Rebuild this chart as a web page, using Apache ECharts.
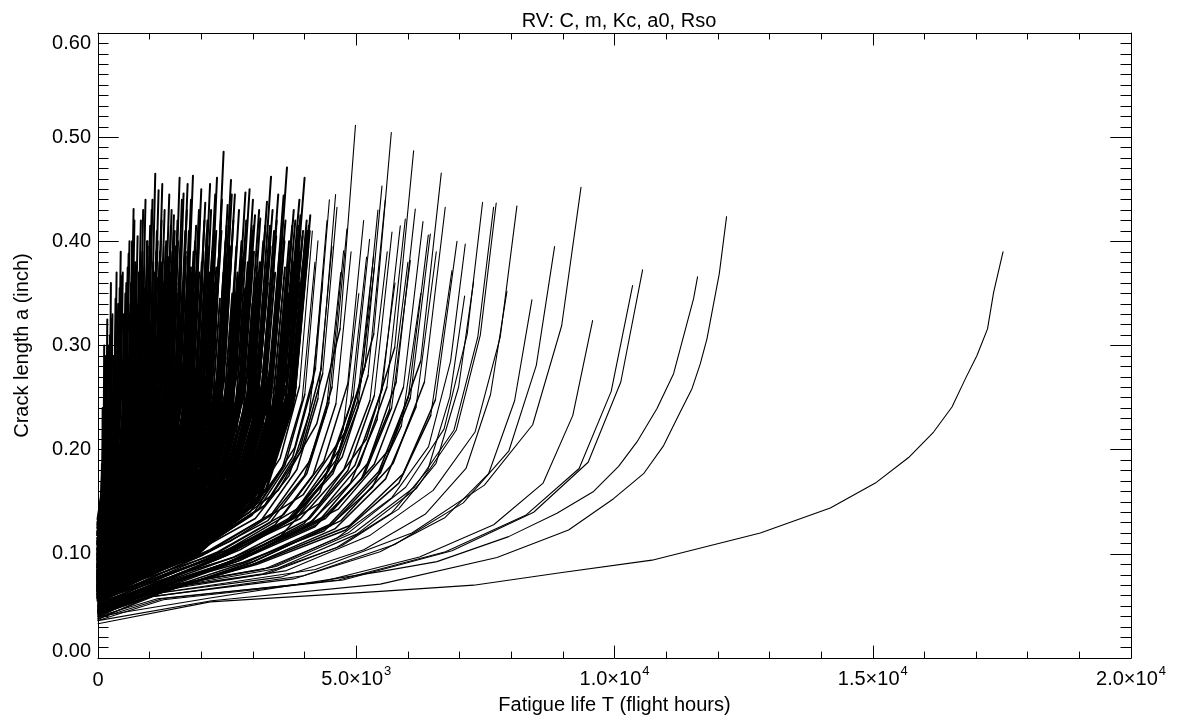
<!DOCTYPE html>
<html>
<head>
<meta charset="utf-8">
<script src="https://cdn.jsdelivr.net/npm/echarts@6/dist/echarts.min.js"></script>
<style>
html,body{margin:0;padding:0;background:#fff;}
#chart{width:1187px;height:720px;}
</style>
</head>
<body>
<div id="chart"></div>
<script>
// Each curve: flat list [T0,a0, T1,a1, ...]  (T in flight hours, a in inch)
const titleText = 'RV: C, m, Kc, a0, Rso';
const xAxisTitle = 'Fatigue life T (flight hours)';
const yAxisTitle = 'Crack length a (inch)';
const xTickMantissa = ['0', '5.0', '1.0', '1.5', '2.0'];
const xTickExp = ['', '3', '4', '4', '4'];
const yTickLabels = ['0.00', '0.10', '0.20', '0.30', '0.40', '0.50', '0.60'];

const bandA = [
[0,.128,60,.153,96,.184,112,.227,120,.30],
[0,.134,90,.162,144,.196,167,.244,180,.325],
[0,.118,115,.146,184,.180,214,.228,230,.31],
[0,.122,136,.150,217,.184,252,.232,271,.326],
[0,.112,150,.137,240,.168,279,.211,300,.29],
[0,.126,170,.157,272,.194,316,.247,340,.345],
[0,.105,190,.133,304,.167,353,.215,380,.31],
[0,.118,210,.152,336,.192,391,.250,420,.355],
[0,.115,233,.151,372,.196,432,.258,465,.367],
[0,.108,250,.139,400,.176,465,.229,500,.33],
[0,.121,265,.152,424,.189,493,.242,530,.35],
[0,.099,280,.130,448,.167,521,.220,560,.32],
[0,.11,297,.149,474,.197,551,.264,593,.388],
[0,.112,75,.134,120,.162,140,.200,150,.27],
[0,.13,125,.161,200,.198,233,.251,250,.36],
[0,.098,160,.123,256,.154,298,.197,320,.28],
[0,.127,220,.163,352,.208,409,.270,440,.39],
[0,.124,305,.163,488,.211,567,.278,610,.40],
[0,.12,45,.137,72,.157,84,.186,90,.24],
[0,.133,180,.167,288,.207,335,.265,360,.37],
[0,.125,100,.150,160,.181,186,.224,200,.30],
[0,.11,140,.141,224,.178,260,.231,280,.33],
[0,.103,205,.134,328,.171,381,.224,410,.32],
[0,.125,240,.159,384,.199,446,.257,480,.37],
[0,.115,275,.149,440,.189,512,.247,550,.36],
[0,.105,315,.139,504,.179,586,.237,630,.34],
[0,.128,195,.159,312,.196,363,.249,390,.34],
[0,.095,260,.126,416,.163,484,.216,520,.31],
[0,.13,70,.152,112,.180,130,.218,140,.29],
[0,.128,288,.162,460,.202,535,.260,575,.375]
];

const bandB = [
[0,.105,320,.141,512,.186,595,.248,640,.36],
[0,.112,345,.157,551,.211,641,.288,689,.431],
[0,.095,360,.134,576,.182,670,.249,720,.38],
[0,.118,384,.157,614,.205,713,.272,767,.405],
[0,.088,400,.124,640,.169,744,.231,800,.35],
[0,.122,415,.164,664,.215,772,.287,830,.42],
[0,.101,430,.140,688,.188,800,.255,860,.39],
[0,.093,445,.132,712,.180,828,.247,890,.37],
[0,.114,460,.159,736,.213,856,.290,920,.44],
[0,.085,475,.130,760,.184,884,.261,950,.40],
[0,.109,490,.145,784,.190,911,.252,980,.36],
[0,.097,505,.142,808,.196,939,.273,1010,.415],
[0,.119,520,.161,832,.212,967,.284,1040,.43],
[0,.082,535,.124,856,.175,995,.247,1070,.38],
[0,.104,555,.154,887,.216,1031,.302,1109,.465],
[0,.091,570,.136,912,.190,1060,.267,1140,.41],
[0,.113,587,.161,938,.218,1091,.300,1173,.449],
[0,.079,600,.121,960,.172,1116,.244,1200,.39],
[0,.099,615,.144,984,.198,1144,.275,1230,.42],
[0,.087,630,.126,1008,.174,1172,.241,1260,.36],
[0,.116,645,.161,1032,.215,1200,.292,1290,.43],
[0,.094,660,.136,1056,.187,1228,.259,1320,.40],
[0,.083,675,.125,1080,.176,1256,.248,1350,.375],
[0,.107,690,.155,1104,.212,1283,.294,1380,.445],
[0,.09,705,.135,1128,.189,1311,.266,1410,.415],
[0,.076,720,.115,1152,.163,1339,.230,1440,.35],
[0,.101,735,.146,1176,.200,1367,.277,1470,.425],
[0,.086,750,.128,1200,.179,1395,.251,1500,.395],
[0,.125,330,.164,528,.212,614,.279,660,.40],
[0,.078,373,.114,596,.159,693,.221,745,.33],
[0,.11,438,.155,700,.209,814,.286,875,.43],
[0,.12,483,.159,772,.207,897,.274,965,.395],
[0,.088,528,.138,844,.200,981,.286,1055,.44],
[0,.121,578,.160,924,.208,1074,.275,1155,.40],
[0,.105,623,.155,996,.217,1158,.303,1245,.455],
[0,.112,668,.151,1068,.199,1242,.266,1335,.385],
[0,.08,713,.130,1140,.192,1325,.278,1425,.43],
[0,.115,743,.157,1188,.208,1381,.280,1485,.41],
[0,.102,353,.147,564,.201,656,.278,705,.42],
[0,.096,563,.130,900,.170,1046,.228,1125,.345],
[0,.115,325,.146,520,.183,605,.236,650,.34],
[0,.088,350,.122,560,.162,651,.220,700,.32],
[0,.109,370,.145,592,.190,688,.252,740,.37],
[0,.097,390,.131,624,.171,725,.229,780,.335],
[0,.113,410,.149,656,.194,763,.256,820,.38],
[0,.08,425,.111,680,.148,791,.201,850,.31],
[0,.104,453,.140,724,.185,842,.247,905,.355],
[0,.09,468,.124,748,.164,870,.222,935,.33],
[0,.118,498,.154,796,.199,925,.261,995,.385],
[0,.075,513,.109,820,.149,953,.207,1025,.32],
[0,.1,530,.139,848,.187,986,.254,1060,.37],
[0,.087,545,.123,872,.168,1014,.230,1090,.34],
[0,.111,565,.150,904,.198,1051,.265,1130,.39],
[0,.078,583,.112,932,.152,1083,.210,1165,.31],
[0,.095,605,.131,968,.176,1125,.238,1210,.365],
[0,.106,620,.145,992,.193,1153,.260,1240,.38],
[0,.082,638,.116,1020,.156,1186,.214,1275,.33],
[0,.1,655,.142,1048,.193,1218,.265,1310,.395],
[0,.091,673,.127,1076,.172,1251,.234,1345,.35],
[0,.077,688,.119,1100,.170,1279,.242,1375,.385],
[0,.103,700,.139,1120,.184,1302,.246,1400,.36],
[0,.084,728,.123,1164,.171,1353,.238,1455,.37],
[0,.096,745,.135,1192,.183,1386,.250,1490,.38],
[0,.1,340,.136,544,.181,632,.243,680,.36],
[0,.12,435,.154,696,.194,809,.252,870,.36],
[0,.098,480,.140,768,.191,893,.263,960,.40],
[0,.12,550,.156,880,.201,1023,.263,1100,.37],
[0,.089,595,.131,952,.182,1107,.254,1190,.38],
[0,.098,643,.132,1028,.172,1195,.230,1285,.34],
[0,.111,720,.150,1152,.198,1339,.265,1440,.39]
];

const bandC = [
[0,.095,770,.140,1232,.194,1432,.271,1540,.42],
[0,.083,790,.136,1264,.201,1469,.292,1580,.461],
[0,.104,805,.146,1288,.197,1497,.269,1610,.40],
[0,.078,829,.128,1326,.190,1541,.276,1657,.446],
[0,.092,845,.131,1352,.179,1572,.246,1690,.38],
[0,.11,860,.155,1376,.209,1600,.286,1720,.43],
[0,.071,880,.119,1408,.176,1637,.258,1760,.41],
[0,.088,900,.138,1440,.200,1674,.286,1800,.44],
[0,.099,920,.149,1471,.211,1710,.297,1839,.463],
[0,.067,935,.109,1496,.160,1739,.232,1870,.37],
[0,.084,950,.132,1520,.189,1767,.271,1900,.415],
[0,.103,970,.145,1552,.196,1804,.268,1940,.395],
[0,.076,985,.124,1576,.181,1832,.263,1970,.425],
[0,.09,1000,.140,1600,.202,1860,.288,2000,.45],
[0,.069,1020,.114,1632,.168,1897,.245,2040,.39],
[0,.081,1039,.131,1662,.193,1932,.279,2077,.437],
[0,.097,1055,.142,1688,.196,1962,.273,2110,.41],
[0,.064,1075,.106,1720,.157,2000,.229,2150,.36],
[0,.086,1095,.134,1752,.191,2037,.273,2190,.43],
[0,.074,1115,.119,1784,.173,2074,.250,2230,.40],
[0,.093,1135,.143,1816,.205,2111,.291,2270,.445],
[0,.072,1152,.125,1843,.190,2143,.281,2304,.461],
[0,.081,1170,.123,1872,.174,2176,.246,2340,.385],
[0,.066,1190,.116,1904,.178,2213,.264,2380,.42],
[0,.078,1216,.134,1946,.202,2262,.298,2432,.486],
[0,.088,1235,.133,1976,.187,2297,.264,2470,.40],
[0,.07,1255,.120,2008,.182,2334,.268,2510,.435],
[0,.062,1273,.104,2036,.155,2367,.227,2545,.37],
[0,.083,1288,.136,2060,.201,2395,.292,2575,.459],
[0,.072,760,.111,1216,.159,1414,.226,1520,.36],
[0,.087,813,.137,1300,.199,1511,.285,1625,.44],
[0,.097,868,.147,1388,.209,1614,.295,1735,.455],
[0,.078,925,.123,1480,.177,1721,.254,1850,.39],
[0,.094,978,.142,1564,.199,1818,.281,1955,.43],
[0,.1,1030,.145,1648,.199,1916,.276,2060,.42],
[0,.077,1085,.130,1736,.195,2018,.286,2170,.455],
[0,.085,1145,.130,1832,.184,2130,.261,2290,.41],
[0,.091,1200,.139,1920,.196,2232,.278,2400,.44],
[0,.076,1245,.124,1992,.181,2316,.263,2490,.415],
[0,.068,1295,.121,2072,.186,2409,.277,2590,.445],
[0,.105,890,.144,1424,.192,1655,.259,1780,.375],
[0,.098,1105,.140,1768,.191,2055,.263,2210,.39],
[0,.1,765,.136,1224,.181,1423,.243,1530,.35],
[0,.079,785,.115,1256,.160,1460,.222,1570,.33],
[0,.089,800,.128,1280,.176,1488,.243,1600,.37],
[0,.106,820,.142,1312,.187,1525,.249,1640,.36],
[0,.07,835,.109,1336,.157,1553,.224,1670,.34],
[0,.096,850,.138,1360,.189,1581,.261,1700,.39],
[0,.083,873,.119,1396,.164,1623,.226,1745,.35],
[0,.092,888,.126,1420,.166,1651,.224,1775,.335],
[0,.074,908,.116,1452,.167,1688,.239,1815,.37],
[0,.101,930,.140,1488,.188,1730,.255,1860,.38],
[0,.087,945,.121,1512,.161,1758,.219,1890,.32],
[0,.066,963,.105,1540,.153,1790,.220,1925,.35],
[0,.085,980,.124,1568,.172,1823,.239,1960,.37],
[0,.095,1010,.131,1616,.176,1879,.238,2020,.36],
[0,.078,1025,.114,1640,.159,1907,.221,2050,.34],
[0,.068,1045,.113,1672,.167,1944,.244,2090,.38],
[0,.088,1065,.130,1704,.181,1981,.253,2130,.395],
[0,.102,1080,.138,1728,.183,2009,.245,2160,.37],
[0,.073,1100,.109,1760,.154,2046,.216,2200,.33],
[0,.084,1125,.123,1800,.171,2093,.238,2250,.36],
[0,.061,1140,.100,1824,.148,2120,.215,2280,.35],
[0,.09,1160,.129,1856,.177,2158,.244,2320,.375],
[0,.077,1180,.122,1888,.176,2195,.253,2360,.39],
[0,.069,1205,.108,1928,.156,2241,.223,2410,.34],
[0,.082,1225,.121,1960,.169,2279,.236,2450,.37],
[0,.095,1240,.134,1984,.182,2306,.249,2480,.385],
[0,.065,1265,.107,2024,.158,2353,.230,2530,.36],
[0,.079,1280,.124,2048,.178,2381,.255,2560,.395],
[0,.091,775,.133,1240,.184,1442,.256,1550,.40],
[0,.1,845,.145,1352,.199,1572,.276,1690,.41],
[0,.08,940,.125,1504,.179,1748,.256,1880,.40],
[0,.071,1005,.105,1608,.145,1869,.203,2010,.31],
[0,.079,1060,.127,1696,.184,1972,.266,2120,.42],
[0,.1,1195,.145,1912,.199,2223,.276,2390,.41],
[0,.087,1260,.129,2016,.180,2344,.252,2520,.38],
[0,.074,1300,.113,2080,.161,2418,.228,2600,.35]
];

const bandD = [
[0,.08,1310,.128,2096,.185,2437,.267,2620,.42],
[0,.064,1340,.112,2144,.169,2492,.251,2680,.395],
[0,.074,1365,.124,2184,.186,2539,.272,2730,.43],
[0,.087,1395,.132,2232,.186,2595,.263,2790,.40],
[0,.07,1428,.123,2284,.188,2655,.279,2855,.447],
[0,.061,1450,.106,2320,.160,2697,.237,2900,.38],
[0,.078,1468,.131,2348,.196,2730,.287,2935,.45],
[0,.067,1495,.115,2392,.172,2781,.254,2990,.41],
[0,.083,1520,.131,2432,.188,2827,.270,3040,.425],
[0,.058,1545,.103,2472,.157,2874,.234,3090,.37],
[0,.072,1571,.120,2514,.177,2922,.259,3142,.422],
[0,.064,1600,.112,2560,.169,2976,.251,3200,.40],
[0,.076,1636,.126,2618,.188,3043,.274,3272,.438],
[0,.059,1655,.104,2648,.158,3078,.235,3310,.385],
[0,.069,1675,.125,2680,.193,3116,.289,3350,.462],
[0,.081,1705,.126,2728,.180,3171,.257,3410,.41],
[0,.062,1730,.112,2768,.174,3218,.260,3460,.42],
[0,.073,1760,.118,2816,.172,3274,.249,3520,.39],
[0,.066,1797,.119,2875,.184,3342,.275,3594,.444],
[0,.07,1830,.126,2927,.194,3403,.290,3659,.471],
[0,.057,1850,.105,2960,.162,3441,.244,3700,.40],
[0,.068,1880,.116,3008,.173,3497,.255,3760,.415],
[0,.06,1910,.110,3056,.172,3553,.258,3820,.42],
[0,.074,1935,.122,3096,.179,3599,.261,3870,.405],
[0,.063,1960,.113,3136,.175,3646,.261,3920,.425],
[0,.055,1985,.105,3176,.167,3692,.253,3970,.41],
[0,.066,2000,.122,3200,.190,3720,.286,4000,.461],
[0,.059,2020,.109,3232,.171,3757,.257,4040,.42],
[0,.071,2040,.119,3264,.176,3794,.258,4080,.415],
[0,.062,2055,.112,3288,.174,3822,.260,4110,.425],
[0,.09,1325,.140,2120,.202,2465,.288,2650,.445],
[0,.058,1380,.100,2208,.151,2567,.223,2760,.36],
[0,.082,1435,.130,2296,.187,2669,.269,2870,.42],
[0,.075,1500,.125,2400,.187,2790,.273,3000,.44],
[0,.087,1560,.135,2496,.192,2902,.274,3120,.43],
[0,.07,1620,.118,2592,.175,3013,.257,3240,.415],
[0,.077,1690,.127,2704,.189,3143,.275,3380,.43],
[0,.067,1745,.120,2792,.185,3246,.276,3490,.445],
[0,.078,1815,.126,2904,.183,3376,.265,3630,.42],
[0,.064,1895,.114,3032,.176,3525,.262,3790,.43],
[0,.069,1950,.122,3120,.187,3627,.278,3900,.44],
[0,.065,2030,.113,3248,.170,3776,.252,4060,.405],
[0,.085,1780,.130,2848,.184,3311,.261,3560,.40],
[0,.08,1865,.125,2984,.179,3469,.256,3730,.395],
[0,.071,1320,.110,2112,.158,2455,.225,2640,.35],
[0,.083,1350,.122,2160,.170,2511,.237,2700,.37],
[0,.065,1375,.101,2200,.146,2558,.208,2750,.33],
[0,.076,1405,.118,2248,.169,2613,.241,2810,.385],
[0,.06,1440,.099,2304,.147,2678,.214,2880,.35],
[0,.072,1475,.114,2360,.165,2744,.237,2950,.375],
[0,.085,1510,.127,2416,.178,2809,.250,3020,.39],
[0,.064,1535,.103,2456,.151,2855,.218,3070,.345],
[0,.078,1580,.120,2528,.171,2939,.243,3160,.38],
[0,.056,1610,.095,2576,.143,2995,.210,3220,.33],
[0,.068,1645,.110,2632,.161,3060,.233,3290,.36],
[0,.081,1670,.126,2672,.180,3106,.257,3340,.395],
[0,.06,1715,.102,2744,.153,3190,.225,3430,.37],
[0,.071,1750,.110,2800,.158,3255,.225,3500,.35],
[0,.064,1790,.109,2864,.163,3329,.240,3580,.385],
[0,.075,1820,.114,2912,.162,3385,.229,3640,.36],
[0,.062,1860,.101,2976,.149,3460,.216,3720,.345],
[0,.07,1890,.115,3024,.169,3515,.246,3780,.38],
[0,.058,1925,.100,3080,.151,3581,.223,3850,.36],
[0,.073,1955,.118,3128,.172,3636,.249,3910,.39],
[0,.064,1980,.112,3168,.169,3683,.251,3960,.405],
[0,.068,2010,.116,3216,.173,3739,.255,4020,.40],
[0,.057,2035,.105,3256,.162,3785,.244,4070,.395],
[0,.066,2050,.114,3280,.171,3813,.253,4100,.41],
[0,.09,1390,.135,2224,.189,2585,.266,2780,.40],
[0,.088,1505,.133,2408,.187,2799,.264,3010,.415],
[0,.083,1665,.131,2664,.188,3097,.270,3330,.415],
[0,.079,1805,.124,2888,.178,3357,.255,3610,.40],
[0,.081,1945,.129,3112,.186,3618,.268,3890,.415],
[0,.075,2025,.123,3240,.180,3767,.262,4050,.41],
[0,.074,1725,.122,2760,.179,3209,.261,3450,.405]
];

const bandG = [
[0,.12,175,.148,280,.182,326,.230,350,.33],
[0,.11,225,.144,360,.184,419,.242,450,.35],
[0,.118,280,.152,448,.192,521,.250,560,.36],
[0,.104,350,.138,560,.178,651,.236,700,.34],
[0,.112,395,.148,632,.193,735,.255,790,.37],
[0,.099,450,.135,720,.180,837,.242,900,.35],
[0,.108,500,.144,800,.189,930,.251,1000,.375],
[0,.093,540,.129,864,.174,1004,.236,1080,.345],
[0,.102,575,.138,920,.183,1070,.245,1150,.365],
[0,.089,610,.125,976,.170,1135,.232,1220,.355],
[0,.109,650,.148,1040,.196,1209,.263,1300,.38],
[0,.085,685,.121,1096,.166,1274,.228,1370,.34],
[0,.097,725,.136,1160,.184,1349,.251,1450,.37],
[0,.081,760,.120,1216,.168,1414,.235,1520,.355],
[0,.094,795,.133,1272,.181,1479,.248,1590,.38],
[0,.078,830,.114,1328,.159,1544,.221,1660,.345],
[0,.09,865,.129,1384,.177,1609,.244,1730,.365],
[0,.082,900,.124,1440,.175,1674,.247,1800,.375],
[0,.093,935,.129,1496,.174,1739,.236,1870,.35],
[0,.072,970,.111,1552,.159,1804,.226,1940,.36],
[0,.087,1005,.129,1608,.180,1869,.252,2010,.38],
[0,.076,1040,.112,1664,.157,1934,.219,2080,.34],
[0,.09,1075,.129,1720,.177,2000,.244,2150,.365],
[0,.069,1110,.108,1776,.156,2065,.223,2220,.355],
[0,.08,1145,.122,1832,.173,2130,.245,2290,.375],
[0,.072,1180,.111,1888,.159,2195,.226,2360,.345],
[0,.084,1215,.123,1944,.171,2260,.238,2430,.37],
[0,.067,1250,.109,2000,.160,2325,.232,2500,.36],
[0,.078,1285,.120,2056,.171,2390,.243,2570,.38],
[0,.063,1320,.102,2112,.150,2455,.217,2640,.345],
[0,.075,1355,.114,2168,.162,2520,.229,2710,.365],
[0,.069,1390,.114,2224,.168,2585,.245,2780,.38],
[0,.08,1425,.119,2280,.167,2651,.234,2850,.355],
[0,.066,1460,.108,2336,.159,2716,.231,2920,.37],
[0,.074,1495,.110,2392,.155,2781,.217,2990,.34],
[0,.061,1530,.103,2448,.154,2846,.226,3060,.365],
[0,.071,1565,.113,2504,.164,2911,.236,3130,.38],
[0,.065,1600,.104,2560,.152,2976,.219,3200,.35],
[0,.07,1635,.112,2616,.163,3041,.235,3270,.37],
[0,.062,1670,.104,2672,.155,3106,.227,3340,.355],
[0,.068,1705,.113,2728,.167,3171,.244,3410,.38],
[0,.058,1740,.097,2784,.145,3236,.212,3480,.34],
[0,.067,1775,.109,2840,.160,3302,.232,3550,.365],
[0,.06,1810,.105,2896,.159,3367,.236,3620,.375],
[0,.066,1845,.105,2952,.153,3432,.220,3690,.35],
[0,.061,1880,.103,3008,.154,3497,.226,3760,.37],
[0,.068,1915,.113,3064,.167,3562,.244,3830,.385],
[0,.059,1950,.101,3120,.152,3627,.224,3900,.36],
[0,.064,1985,.109,3176,.163,3692,.240,3970,.38],
[0,.11,125,.138,200,.172,233,.220,250,.31],
[0,.095,310,.129,496,.169,577,.227,620,.33],
[0,.122,425,.158,680,.203,791,.265,850,.375],
[0,.118,560,.152,896,.192,1042,.250,1120,.36],
[0,.114,700,.150,1120,.195,1302,.257,1400,.37],
[0,.106,850,.145,1360,.193,1581,.260,1700,.385]
];

const bandE = [
[0,.064,1868,.109,2905,.144,3528,.192,3901,.261,4150,.41],
[0,.058,1917,.103,2981,.137,3620,.185,4003,.253,4259,.4006],
[0,.066,1958,.104,3045,.134,3698,.175,4089,.234,4350,.36],
[0,.06,1995,.107,3104,.143,3769,.193,4168,.265,4434,.42],
[0,.055,2039,.099,3171,.133,3851,.181,4258,.249,4530,.395],
[0,.062,2082,.110,3239,.147,3933,.199,4349,.273,4627,.4326],
[0,.052,2140,.096,3329,.130,4042,.177,4470,.245,4755,.391],
[0,.058,2169,.104,3374,.139,4097,.189,4531,.260,4820,.412],
[0,.05,2205,.094,3430,.128,4165,.176,4606,.244,4900,.39],
[0,.056,2243,.115,3490,.161,4237,.225,4686,.316,4985,.5115],
[0,.047,2273,.086,3535,.117,4293,.159,4747,.220,5050,.35],
[0,.054,2314,.102,3600,.138,4372,.189,4834,.263,5143,.42],
[0,.05,2366,.096,3681,.131,4469,.180,4943,.251,5258,.402],
[0,.057,2401,.100,3735,.133,4536,.179,5016,.245,5336,.386],
[0,.051,2474,.103,3849,.143,4673,.200,5168,.280,5498,.453],
[0,.048,2503,.099,3893,.138,4728,.193,5228,.271,5562,.44],
[0,.053,2556,.112,3975,.157,4827,.220,5338,.311,5679,.5045],
[0,.045,2561,.092,3984,.129,4838,.180,5350,.252,5692,.409],
[0,.05,2634,.097,4097,.134,4975,.185,5502,.258,5853,.415],
[0,.046,2678,.095,4165,.132,5058,.185,5593,.260,5950,.4215],
[0,.052,2721,.095,4233,.128,5140,.174,5684,.240,6047,.3815],
[0,.047,2750,.104,4278,.148,5194,.210,5744,.298,6111,.487],
[0,.044,2764,.094,4300,.133,5222,.187,5774,.265,6143,.431],
[0,.049,2831,.097,4404,.134,5348,.186,5914,.260,6292,.419],
[0,.045,2878,.092,4477,.128,5436,.179,6011,.251,6395,.406],
[0,.043,2895,.090,4504,.127,5469,.178,6048,.250,6434,.407],
[0,.046,2991,.101,4652,.143,5649,.201,6247,.285,6646,.4655],
[0,.042,3025,.093,4706,.132,5715,.187,6320,.265,6723,.4327],
[0,.048,3084,.090,4797,.123,5825,.168,6442,.233,6853,.372],
[0,.068,1890,.109,2940,.140,3570,.183,3948,.246,4200,.38],
[0,.063,2016,.112,3136,.150,3808,.202,4211,.278,4480,.44],
[0,.061,2115,.101,3290,.132,3995,.175,4418,.237,4700,.37],
[0,.055,2340,.098,3640,.131,4420,.177,4888,.243,5200,.385],
[0,.049,2439,.099,3794,.137,4607,.190,5095,.266,5420,.43],
[0,.056,2588,.096,4025,.126,4888,.168,5405,.229,5750,.36],
[0,.05,2700,.093,4200,.126,5100,.172,5640,.238,6000,.38],
[0,.054,2813,.092,4375,.122,5313,.164,5875,.223,6250,.35],
[0,.044,2948,.089,4585,.124,5568,.172,6157,.241,6550,.39],
[0,.046,3128,.092,4865,.127,5908,.177,6533,.248,6950,.40],
[0,.058,2520,.101,3920,.134,4760,.181,5264,.247,5600,.39],
[0,.057,2070,.107,3220,.146,3910,.201,4324,.278,4600,.445],
[0,.061,2408,.102,3745,.133,4548,.177,5029,.240,5350,.375]
];

const bandF = [
[0,.046,852,.064,3194,.081,4614,.106,5678,.139,6388,.181,6814,.251,7098,.3474],
[0,.044,853,.065,3200,.085,4622,.115,5689,.154,6400,.203,6827,.285,7111,.3975],
[0,.045,873,.064,3272,.081,4727,.108,5818,.143,6545,.187,6981,.260,7272,.3614],
[0,.041,894,.065,3351,.087,4840,.120,5957,.164,6701,.220,7148,.311,7446,.4375],
[0,.043,919,.066,3447,.088,4978,.121,6127,.164,6893,.219,7353,.308,7659,.4327],
[0,.04,925,.064,3470,.086,5012,.119,6168,.163,6939,.219,7402,.310,7710,.4368],
[0,.042,950,.061,3563,.078,5146,.104,6334,.138,7125,.182,7600,.253,7917,.352],
[0,.039,973,.063,3650,.084,5272,.118,6489,.161,7300,.217,7787,.308,8111,.434],
[0,.041,1008,.059,3781,.076,5461,.102,6722,.135,7562,.177,8066,.247,8402,.344],
[0,.038,1061,.059,3978,.079,5746,.109,7072,.149,7956,.199,8486,.281,8840,.395],
[0,.037,1122,.062,4208,.085,6078,.120,7481,.166,8416,.224,8977,.319,9351,.4518],
[0,.04,1149,.057,4309,.073,6224,.097,7661,.128,8618,.168,9193,.233,9576,.324],
[0,.038,1242,.057,4658,.075,6728,.102,8280,.137,9315,.182,9936,.256,10350,.3576],
[0,.036,1265,.056,4745,.075,6854,.103,8435,.140,9490,.188,10122,.265,10544,.3726]
];

const curveX = [0,.04,2200,.058,5466,.083,6563,.0926,7950,.1166,8886,.139,9595,.16,10079,.184,10435,.2075,10823,.2395,11144,.273,11531,.345,11608,.366];
const curveC2 = [0,.036,2200,.055,5466,.071,7725,.0965,9111,.123,9982,.153,10563,.177,10951,.204,11241,.233,11500,.2586,11662,.2826,11790,.3065,12029,.369,12170,.4237];
const curveC1 = [0,.033,2170,.054,5466,.064,7272,.070,8951,.082,10726,.094,12823,.120,14178,.144,15050,.168,15694,.1925,16178,.217,16534,.241,16792,.268,17018,.2905,17222,.316,17340,.351,17522,.390];

const denseCurves = [].concat(bandA, bandB, bandC, bandD, bandG);
const midCurves = bandE;
const longCurves = [].concat(bandF, [curveX, curveC2, curveC1]);

function toPairs(flat) {
  const out = [];
  for (let i = 0; i < flat.length; i += 2) out.push([flat[i], flat[i + 1]]);
  return out;
}

const FONT = 'Liberation Sans, Arial, Helvetica, sans-serif';

function mkSeries(pts, w) {
  return {
    type: 'line',
    data: pts,
    symbol: 'none',
    showSymbol: false,
    silent: true,
    animation: false,
    clip: true,
    lineStyle: { color: '#000', width: w, join: 'round', cap: 'round' },
    emphasis: { disabled: true }
  };
}
// body of each curve (all but its last segment) and its final steep tip
function splitSeries(curves, bodyW, tipW) {
  const out = [];
  curves.forEach(c => {
    const p = toPairs(c);
    out.push(mkSeries(p.slice(0, p.length - 1), bodyW));
    out.push(mkSeries(p.slice(p.length - 2), tipW));
  });
  return out;
}
const series = []
  .concat(splitSeries(denseCurves, 2.8, 2.0))
  .concat(splitSeries(midCurves, 1.5, 1.1))
  .concat(longCurves.map(c => mkSeries(toPairs(c), 1.1)));

function xLabel(v) {
  const i = Math.round(v / 5000);
  if (xTickExp[i] === '') return '{z|' + xTickMantissa[i] + '}';
  return '{m|' + xTickMantissa[i] + '×10}{s|' + xTickExp[i] + '}';
}
function yLabel(v) {
  const i = Math.round(v * 10);
  const s = yTickLabels[i];
  if (i === yTickLabels.length - 1) return '{t|' + s + '}';
  if (i === 0) return '{b|' + s + '}';
  return '{n|' + s + '}';
}

const commonX = {
  type: 'value', min: 0, max: 20000, interval: 5000,
  splitLine: { show: false },
  axisLine: { show: true, onZero: false, lineStyle: { color: '#000', width: 1 } },
  axisTick: { show: true, inside: true, length: 12.5, lineStyle: { color: '#000' } },
  minorTick: { show: true, splitNumber: 5, length: 6.5, lineStyle: { color: '#000' } },
  minorSplitLine: { show: false }
};
const commonY = {
  type: 'value', min: 0, max: 0.6, interval: 0.1,
  splitLine: { show: false },
  axisLine: { show: true, onZero: false, lineStyle: { color: '#000', width: 1 } },
  axisTick: { show: true, inside: true, length: 20.7, lineStyle: { color: '#000' } },
  minorTick: { show: true, splitNumber: 10, length: 10.5, lineStyle: { color: '#000' } },
  minorSplitLine: { show: false }
};

const chart = echarts.init(document.getElementById('chart'), null, { renderer: 'canvas' });
chart.setOption({
  animation: false,
  backgroundColor: '#fff',
  title: {
    text: titleText, left: 614, top: 6, textAlign: 'center',
    textStyle: { fontFamily: FONT, fontSize: 20, fontWeight: 'normal', color: '#000' }
  },
  grid: { left: 98, right: 56, top: 33, bottom: 60, containLabel: false },
  xAxis: [
    Object.assign({}, commonX, {
      position: 'bottom',
      name: xAxisTitle, nameLocation: 'middle', nameGap: 33,
      nameTextStyle: { fontFamily: FONT, fontSize: 20, color: '#000' },
      axisLabel: {
        show: true, margin: 7, color: '#000', fontFamily: FONT, fontSize: 20,
        formatter: xLabel,
        rich: {
          m: { fontFamily: FONT, fontSize: 20, color: '#000', verticalAlign: 'middle' },
          s: { fontFamily: FONT, fontSize: 13, color: '#000', verticalAlign: 'middle', padding: [0, 0, 16, 1] },
          z: { fontFamily: FONT, fontSize: 20, color: '#000', verticalAlign: 'middle', padding: [5, 0, 4, 0] }
        }
      }
    }),
    Object.assign({}, commonX, { position: 'top', axisLabel: { show: false } })
  ],
  yAxis: [
    Object.assign({}, commonY, {
      position: 'left',
      name: yAxisTitle, nameLocation: 'middle', nameGap: 66, nameRotate: 90,
      nameTextStyle: { fontFamily: FONT, fontSize: 20, color: '#000' },
      axisLabel: {
        show: true, margin: 7, color: '#000', fontFamily: FONT, fontSize: 20,
        formatter: yLabel,
        rich: {
          n: { fontFamily: FONT, fontSize: 20, color: '#000' },
          t: { fontFamily: FONT, fontSize: 20, color: '#000', padding: [20, 0, 0, 0] },
          b: { fontFamily: FONT, fontSize: 20, color: '#000', padding: [0, 0, 14, 0] }
        }
      }
    }),
    Object.assign({}, commonY, { position: 'right', axisLabel: { show: false } })
  ],
  series: series
});
</script>
</body>
</html>
